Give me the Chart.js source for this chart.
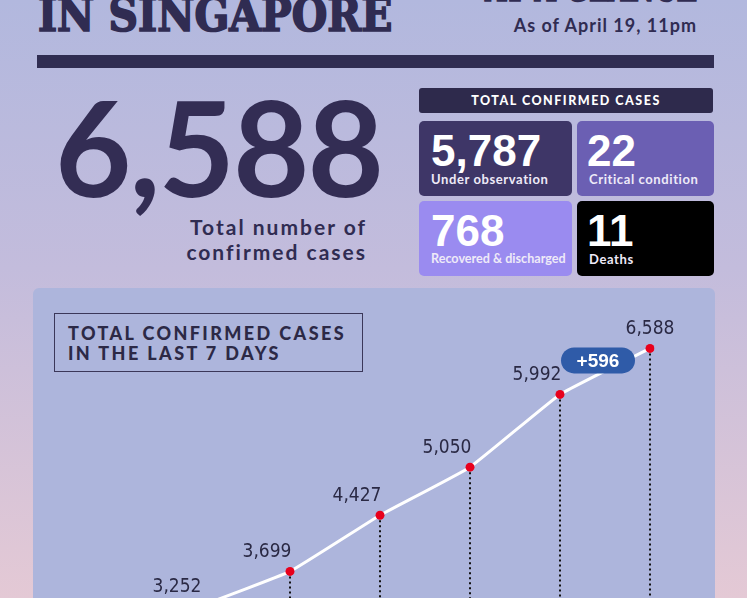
<!DOCTYPE html>
<html lang="en">
<head>
<meta charset="UTF-8">
<title>COVID-19 in Singapore</title>
<script src="https://cdn.jsdelivr.net/npm/chart.js"></script>
<style>
    html, body { margin: 0; padding: 0; }
    body {
        width: 747px; height: 598px; overflow: hidden; position: relative;
        background: linear-gradient(#b2b8de 0%, #c3bcdc 45%, #e4c9d5 100%);
        color: #302c52; font-family: Lato, sans-serif;
    }
    .abs { position: absolute; white-space: nowrap; }
    .slab { font-family: "DejaVu Serif Condensed", "DejaVu Serif", serif; font-weight: 700; line-height: 1; -webkit-text-stroke: 1.6px #302c52; }
    .bar { left: 37px; top: 55px; width: 677px; height: 13px; background: #302d52; }
    .card { position: absolute; border-radius: 5px; color: #fff; }
    .card .num { position: absolute; top: 8px; font-family: "Liberation Sans", Arial, sans-serif; font-weight: 700; font-size: 44px; line-height: 1; white-space: nowrap; }
    .card .lbl { position: absolute; top: 52px; font-weight: 700; font-size: 13px; line-height: 1; letter-spacing: 0.6px; color: #eeeaf8; white-space: nowrap; }
    .panel { left: 33px; top: 288px; width: 682px; height: 400px; background: #adb5dc; border-radius: 6px; }
    .ctitle { left: 54px; top: 313px; width: 309px; height: 59px; box-sizing: border-box; border: 1.5px solid #3b3759; }
    .ctitle div { position: absolute; left: 13px; top: 9px; font-weight: 900; font-size: 18px; line-height: 20px; letter-spacing: 2.4px; color: #2c2946; }
    #chart { position: absolute; left: 0; top: 0; }
</style>
</head>
<body>
    <div class="abs slab" id="t1" style="left:38px; top:-8px; font-size:46px; transform-origin:left top;">IN SINGAPORE</div>
    <div class="abs slab" id="t2" style="left:485px; top:-33px; font-size:40px; transform-origin:left top;">AT A GLANCE</div>
    <div class="abs" style="right:50px; top:16px; font-weight:700; font-size:18px; line-height:1; letter-spacing:1px;">As of April 19, 11pm</div>
    <div class="abs bar"></div>

    <div class="abs" style="left:55px; top:80px; font-weight:700; font-size:132px; line-height:1; letter-spacing:-2px; color:#332d54;">6,588</div>
    <div class="abs" style="right:380px; top:214px; font-weight:700; font-size:21px; line-height:25px; letter-spacing:2px; text-align:right;">Total number of<br>confirmed cases</div>

    <div class="abs" style="left:419px; top:88px; width:294px; height:25px; background:#2e2a4c; border-radius:3px; color:#fff; font-weight:900; font-size:12.5px; line-height:25px; letter-spacing:1.5px; text-align:center;">TOTAL CONFIRMED CASES</div>
    <div class="card" style="left:419px; top:121px; width:153px; height:75px; background:#3e3667;">
        <div class="num" style="left:12px;">5,787</div><div class="lbl" style="left:12px;">Under observation</div>
    </div>
    <div class="card" style="left:577px; top:121px; width:137px; height:75px; background:#6b5fb3;">
        <div class="num" style="left:10px;">22</div><div class="lbl" style="left:12px;">Critical condition</div>
    </div>
    <div class="card" style="left:419px; top:201px; width:153px; height:75px; background:#9a8bf0;">
        <div class="num" style="left:12px;">768</div><div class="lbl" style="left:12px; font-size:12.6px; letter-spacing:0;">Recovered &amp; discharged</div>
    </div>
    <div class="card" style="left:577px; top:201px; width:137px; height:75px; background:#000;">
        <div class="num" style="left:10px;">11</div><div class="lbl" style="left:12px;">Deaths</div>
    </div>

    <div class="abs panel"></div>
    <div class="abs ctitle"><div>TOTAL CONFIRMED CASES<br>IN THE LAST 7 DAYS</div></div>

    <canvas id="chart" width="747" height="900" style="width:747px; height:900px;"></canvas>

<script>
    // last 7 days, up to April 19
    const dias = ['Apr 13', 'Apr 14', 'Apr 15', 'Apr 16', 'Apr 17', 'Apr 18', 'Apr 19'];
    const casos = [2918, 3252, 3699, 4427, 5050, 5992, 6588];

    const fmt = n => n.toLocaleString('en-US');

    // squeeze the slab headings to their width
    function ajustarLargura(id, largura) {
        const el = document.getElementById(id);
        el.style.transform = 'scaleX(' + (largura / el.offsetWidth) + ')';
    }
    ajustarLargura('t1', 354);
    ajustarLargura('t2', 212);

    // dotted drop lines from each point to the bottom
    const linhasPontilhadas = {
        id: 'linhasPontilhadas',
        beforeDatasetsDraw(chart) {
            const ctx = chart.ctx;
            const base = chart.chartArea.bottom;
            ctx.save();
            ctx.strokeStyle = '#111';
            ctx.lineWidth = 2;
            ctx.setLineDash([2, 3]);
            chart.getDatasetMeta(0).data.forEach(p => {
                ctx.beginPath();
                ctx.moveTo(p.x, p.y);
                ctx.lineTo(p.x, base);
                ctx.stroke();
            });
            ctx.restore();
        }
    };

    // value labels + the "+N" badge between the last two days
    const rotulos = {
        id: 'rotulos',
        afterDatasetsDraw(chart) {
            const ctx = chart.ctx;
            const pts = chart.getDatasetMeta(0).data;
            const ultimo = pts.length - 1;
            ctx.save();
            ctx.fillStyle = '#2a2944';
            ctx.font = '19px "DejaVu Sans Condensed", "DejaVu Sans", sans-serif';
            ctx.textAlign = 'center';
            ctx.textBaseline = 'middle';
            pts.forEach((p, i) => {
                const dx = i === ultimo ? 0 : -23;
                ctx.fillText(fmt(casos[i]), p.x + dx, p.y - 19);
            });

            const a = pts[ultimo - 1], b = pts[ultimo];
            const cx = (a.x + b.x) / 2 - 7, cy = (a.y + b.y) / 2 - 11;
            const w = 74, h = 26;
            ctx.fillStyle = '#2f5ba8';
            ctx.beginPath();
            ctx.roundRect(cx - w / 2, cy - h / 2, w, h, 13);
            ctx.fill();
            ctx.fillStyle = '#fff';
            ctx.font = 'bold 19px "Liberation Sans", Arial, sans-serif';
            ctx.fillText('+' + fmt(casos[ultimo] - casos[ultimo - 1]), cx, cy + 1);
            ctx.restore();
        }
    };

    new Chart(document.getElementById('chart'), {
        type: 'line',
        data: {
            labels: dias,
            datasets: [{
                data: casos,
                borderColor: '#ffffff',
                borderWidth: 3,
                tension: 0.1,
                pointRadius: 4.5,
                pointBackgroundColor: '#e8001c',
                pointBorderWidth: 0
            }]
        },
        options: {
            responsive: false,
            animation: false,
            events: [],
            layout: { padding: { left: 110, right: 97, top: 85, bottom: 43 } },
            plugins: { legend: { display: false }, tooltip: { enabled: false } },
            scales: {
                x: { display: false },
                y: { display: false, min: 0, max: 10000 }
            }
        },
        plugins: [linhasPontilhadas, rotulos]
    });
</script>
</body>
</html>
